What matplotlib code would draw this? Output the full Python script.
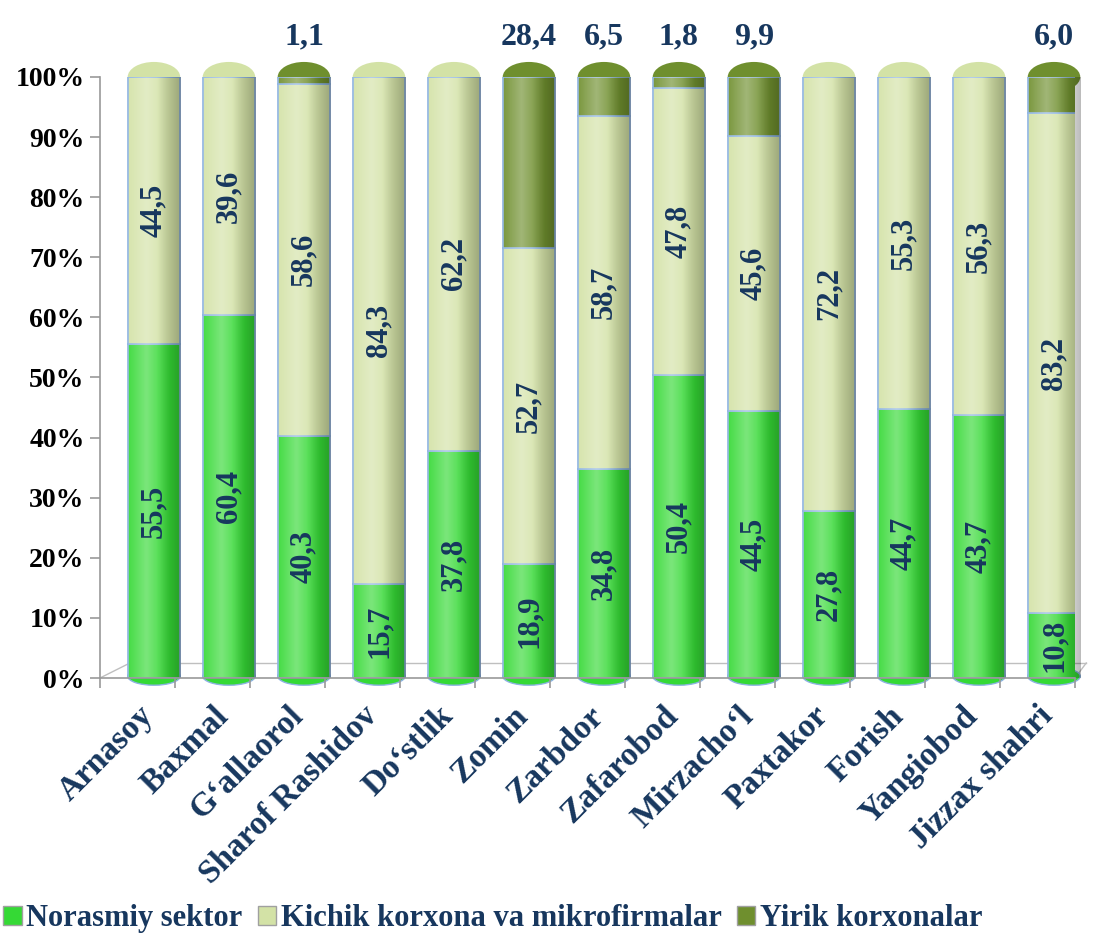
import numpy as np
import matplotlib
matplotlib.use("Agg")
import matplotlib.pyplot as plt
from matplotlib.patches import Ellipse, Patch

# ── DATA ──────────────────────────────────────────────────────────────────────
districts = ["Arnasoy", "Baxmal", "G\u2018allaorol", "Sharof Rashidov", "Do\u2018stlik",
             "Zomin", "Zarbdor", "Zafarobod", "Mirzacho\u2018l", "Paxtakor",
             "Forish", "Yangiobod", "Jizzax shahri"]
norasmiy = [55.5, 60.4, 40.3, 15.7, 37.8, 18.9, 34.8, 50.4, 44.5, 27.8, 44.7, 43.7, 10.8]
kichik   = [44.5, 39.6, 58.6, 84.3, 62.2, 52.7, 58.7, 47.8, 45.6, 72.2, 55.3, 56.3, 83.2]
yirik    = [0, 0, 1.1, 0, 0, 28.4, 6.5, 1.8, 9.9, 0, 0, 0, 6.0]
series_names = ["Norasmiy sektor", "Kichik korxona va mikrofirmalar", "Yirik korxonalar"]

# ── STYLE ─────────────────────────────────────────────────────────────────────
C_GREEN = "#35D935"
C_LIGHT = "#D3E2A6"
C_DARK = "#6F8F2E"
C_EDGE = "#8DB3E2"
C_TEXT = "#17375E"
SERIF = ["Liberation Serif", "DejaVu Serif"]
plt.rcParams["font.family"] = SERIF
plt.rcParams["font.weight"] = "bold"

fig = plt.figure(figsize=(11.02, 9.33), dpi=100)
ax = fig.add_axes([0.0907, 0.2733, 0.8848, 0.6442])

n = len(districts)
x = np.arange(n) + 0.22
width = 0.7
cap_h = 2.5

# horizontal shading for the cylinder look
shade = np.linspace(0, 1, 256)
light = np.clip(1 - np.abs(shade - 0.35) * 2.2, 0, 1)
dark = np.clip((shade - 0.55) * 2.0, 0, 1)
shade_light = np.zeros((1, 256, 4))
shade_light[0, :, :3] = 1.0
shade_light[0, :, 3] = light * 0.35
shade_dark = np.zeros((1, 256, 4))
shade_dark[0, :, 3] = dark * 0.30


def add_shading(patch, x0, y0, y1):
    for img in (shade_light, shade_dark):
        im = ax.imshow(img, extent=(x0, x0 + width, y0, y1), aspect="auto",
                       zorder=patch.get_zorder() + 0.5, interpolation="bilinear")
        im.set_clip_path(patch)
        im.set_clip_on(True)


# rounded top and bottom ends of the cylinders
tops_col = [C_DARK if y > 0 else C_LIGHT for y in yirik]
for xi, tc in zip(x, tops_col):
    top = Ellipse((xi, 100), width, cap_h * 2, facecolor=tc, edgecolor="none",
                  zorder=1.2, clip_on=False)
    ax.add_patch(top)
    add_shading(top, xi - width / 2, 100 - cap_h, 100 + cap_h)
    bot = Ellipse((xi, 0.3), width, cap_h * 1.2, facecolor=C_GREEN,
                  edgecolor=C_EDGE, linewidth=1.0, zorder=1.2, clip_on=False)
    ax.add_patch(bot)
    add_shading(bot, xi - width / 2, -cap_h, cap_h)

bottoms = np.zeros(n)
for vals, col in zip([norasmiy, kichik, yirik], [C_GREEN, C_LIGHT, C_DARK]):
    bars = ax.bar(x, vals, width, bottom=bottoms, color=col,
                  edgecolor=C_EDGE, linewidth=1.2, zorder=2)
    for b in bars:
        if b.get_height() <= 0:
            continue
        add_shading(b, b.get_x(), b.get_y(), b.get_y() + b.get_height())
    bottoms += np.array(vals)

# value labels inside bars
for i in range(n):
    ax.text(x[i], norasmiy[i] / 2, f"{norasmiy[i]:.1f}".replace(".", ","),
            rotation=90, ha="center", va="center", color=C_TEXT,
            fontsize=22, fontweight="bold", zorder=5)
    ax.text(x[i], norasmiy[i] + kichik[i] / 2, f"{kichik[i]:.1f}".replace(".", ","),
            rotation=90, ha="center", va="center", color=C_TEXT,
            fontsize=22, fontweight="bold", zorder=5)
    if yirik[i] > 0:
        ax.text(x[i], 104.3, f"{yirik[i]:.1f}".replace(".", ","),
                ha="center", va="bottom", color=C_TEXT,
                fontsize=23, fontweight="bold", clip_on=False, zorder=5)

# 3D floor outline
ax.plot([-0.5, -0.1], [0, cap_h], color="#BFBFBF", lw=1, zorder=1, clip_on=False)
ax.plot([-0.1, n - 0.35], [cap_h, cap_h], color="#BFBFBF", lw=1, zorder=1, clip_on=False)
ax.plot([n - 0.35, n - 0.5], [cap_h, 0], color="#BFBFBF", lw=1, zorder=1, clip_on=False)

ax.set_xlim(-0.5, n - 0.5)
ax.set_ylim(0, 100)
ax.set_yticks(np.arange(0, 101, 10))
ax.set_yticklabels([f"{v}%" for v in range(0, 101, 10)], fontsize=20,
                   fontweight="bold", color="black")
ax.set_xticks(np.arange(n + 1) - 0.5)
ax.set_xticklabels([])
ax.set_xticks(x - 0.22, minor=True)
ax.set_xticklabels(districts, minor=True, rotation=45, ha="right",
                   rotation_mode="anchor", fontsize=24, fontweight="bold",
                   color=C_TEXT)
ax.tick_params(axis="x", which="minor", length=0, pad=16)
ax.tick_params(axis="both", which="major", color="#999999", length=7, width=1.2)
ax.tick_params(axis="y", which="major", pad=4)
for s in ["top", "right"]:
    ax.spines[s].set_visible(False)
for s in ["left", "bottom"]:
    ax.spines[s].set_color("#999999")
    ax.spines[s].set_linewidth(1.2)

handles = [Patch(facecolor=c, edgecolor="#A0A0A0") for c in [C_GREEN, C_LIGHT, C_DARK]]
fig.legend(handles, series_names, loc="lower left", bbox_to_anchor=(-0.022, -0.03),
           ncol=3, frameon=False, handlelength=0.6, handleheight=0.6,
           handletextpad=0.15, columnspacing=0.5,
           prop={"family": SERIF, "weight": "bold", "size": 22},
           labelcolor=C_TEXT)

fig.savefig("out.png", dpi=100)
